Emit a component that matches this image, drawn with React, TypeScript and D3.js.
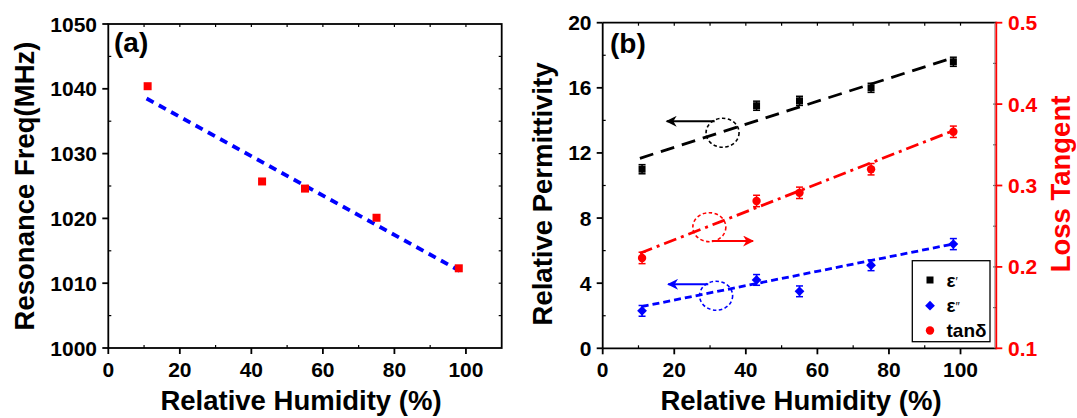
import React from "react";
import * as d3 from "d3";

// ---------- data ----------
const humidity = [11, 43, 55, 75, 98];
const resonanceFreq = [1040.4, 1025.7, 1024.6, 1020.1, 1012.3];
const freqFitX = [10.7, 98.3];
const freqFitY = [1038.5, 1011.9];

const epsReal = [11.0, 14.9, 15.2, 16.0, 17.6];
const epsRealErr = [0.28, 0.28, 0.28, 0.28, 0.28];
const epsImag = [2.3, 4.2, 3.5, 5.1, 6.4];
const epsImagErr = [0.33, 0.33, 0.33, 0.33, 0.34];
const tanDelta = [0.211, 0.281, 0.291, 0.32, 0.366];
const tanDeltaErr = [0.007, 0.007, 0.007, 0.007, 0.007];

const epsRealFitX = [10.4, 98.2];
const epsRealFitY = [11.67, 17.87];
const epsImagFitX = [10.9, 98.0];
const epsImagFitY = [2.56, 6.41];
const tanFitX = [10.4, 98.0];
const tanFitY = [0.2168, 0.3674];

const xTicks = [0, 20, 40, 60, 80, 100];
const freqTicks = [1000, 1010, 1020, 1030, 1040, 1050];
const permTicks = [0, 4, 8, 12, 16, 20];
const lossTicks = [0.1, 0.2, 0.3, 0.4, 0.5];

// annotations (data coords of the left permittivity axis)
const circleX = [33.5, 29.8, 31.7];
const circleY = [13.24, 7.44, 3.23];
const arrowFromX = [31.3, 30.5, 29.5];
const arrowToX = [17.9, 42.0, 18.3];
const arrowY = [13.94, 6.59, 3.93];
const annoColors = ["#000000", "#ff0000", "#0000ff"];

const legendLabels = ["ε", "ε", "tanδ"];
const legendPrimes = ["′", "″", ""];

const FONT = "'Liberation Sans', Arial, Helvetica, sans-serif";
const RED = "#ff0000";
const BLUE = "#0000ff";

function fmt1(v: number) {
  return v.toFixed(1);
}

export default function App() {
  // panel a
  const ax = d3.scaleLinear().domain([0, 110]).range([108.3, 501.7]);
  const ay = d3.scaleLinear().domain([1000, 1050]).range([348, 24]);
  // panel b
  const bx = d3.scaleLinear().domain([0, 110]).range([602.7, 996.3]);
  const by = d3.scaleLinear().domain([0, 20]).range([348.3, 22.7]);
  const byR = d3.scaleLinear().domain([0.1, 0.5]).range([348.3, 22.7]);

  const line = d3.line<[number, number]>();

  const minorX = d3.range(0, 111, 10);
  const fitA = line(freqFitX.map((x, i) => [ax(x), ay(freqFitY[i])]))!;
  const fitEr = line(epsRealFitX.map((x, i) => [bx(x), by(epsRealFitY[i])]))!;
  const fitEi = line(epsImagFitX.map((x, i) => [bx(x), by(epsImagFitY[i])]))!;
  const fitTan = line(tanFitX.map((x, i) => [bx(x), byR(tanFitY[i])]))!;

  const diamond = d3.symbol().type(d3.symbolSquare).size(48)()!;

  const tickText = { fontFamily: FONT, fontWeight: 700, fontSize: 21 } as const;
  const titleText = { fontFamily: FONT, fontWeight: 700, fontSize: 27.5 } as const;

  const errBar = (x: number, y1: number, y2: number, color: string, key: string) => (
    <g key={key} stroke={color} strokeWidth={1.5}>
      <line x1={x} x2={x} y1={y1} y2={y2} />
      <line x1={x - 3.5} x2={x + 3.5} y1={y1} y2={y1} />
      <line x1={x - 3.5} x2={x + 3.5} y1={y2} y2={y2} />
    </g>
  );

  return (
    <svg
      width={1077}
      height={418}
      style={{ position: "absolute", left: 0, top: 0, background: "#fff" }}
    >
      <rect x={0} y={0} width={1077} height={418} fill="#fff" />
      {/* ================= PANEL A ================= */}
      <g>
        {d3.range(1005, 1050, 10).map((v) => (
          <line key={"amy" + v} x1={ax(0)} x2={ax(0) + 3} y1={ay(v)} y2={ay(v)} stroke="#000" strokeWidth={1.2} />
        ))}
        {d3.range(1005, 1050, 5).map((v) => (
          <line key={"ary" + v} x1={ax(110)} x2={ax(110) - 3} y1={ay(v)} y2={ay(v)} stroke="#000" strokeWidth={1.2} />
        ))}
        {d3.range(10, 110, 20).map((v) => (
          <line key={"amx" + v} x1={ax(v)} x2={ax(v)} y1={ay(1000)} y2={ay(1000) - 3} stroke="#000" strokeWidth={1.2} />
        ))}
        {minorX.slice(1, -1).map((v) => (
          <line key={"atx" + v} x1={ax(v)} x2={ax(v)} y1={ay(1050)} y2={ay(1050) + 3} stroke="#000" strokeWidth={1.2} />
        ))}
        {freqTicks.map((v) => (
          <line key={"aMy" + v} x1={ax(0) - 6} x2={ax(0)} y1={ay(v)} y2={ay(v)} stroke="#000" strokeWidth={1.8} />
        ))}
        {xTicks.map((v) => (
          <line key={"aMx" + v} x1={ax(v)} x2={ax(v)} y1={ay(1000)} y2={ay(1000) + 6} stroke="#000" strokeWidth={1.8} />
        ))}
        <rect
          x={ax(0)}
          y={ay(1050)}
          width={ax(110) - ax(0)}
          height={ay(1000) - ay(1050)}
          fill="none"
          stroke="#000"
          strokeWidth={1.8}
        />
        {freqTicks.map((v) => (
          <text key={"aly" + v} x={97} y={ay(v) + 7.5} textAnchor="end" {...tickText}>
            {v}
          </text>
        ))}
        {xTicks.map((v) => (
          <text key={"alx" + v} x={ax(v)} y={376.5} textAnchor="middle" {...tickText}>
            {v}
          </text>
        ))}
        <text x={301} y={410} textAnchor="middle" {...titleText}>
          Relative Humidity (%)
        </text>
        <text transform={`translate(34,186) rotate(-90)`} textAnchor="middle" {...titleText}>
          Resonance Freq(MHz)
        </text>
        <text x={114} y={52} fontFamily={FONT} fontWeight={700} fontSize={28}>
          (a)
        </text>
        <path d={fitA} fill="none" stroke={BLUE} strokeWidth={3.8} strokeDasharray="8 6" />
        {humidity.map((h, i) => (
          <rect key={"ap" + i} x={ax(h) - 4} y={ay(resonanceFreq[i]) - 4} width={8} height={8} fill={RED} />
        ))}
      </g>

      {/* ================= PANEL B ================= */}
      <g>
        {d3.range(2, 20, 4).map((v) => (
          <line key={"bmy" + v} x1={bx(0)} x2={bx(0) + 3} y1={by(v)} y2={by(v)} stroke="#000" strokeWidth={1.2} />
        ))}
        {d3.range(10, 110, 20).map((v) => (
          <line key={"bmx" + v} x1={bx(v)} x2={bx(v)} y1={by(0)} y2={by(0) - 3} stroke="#000" strokeWidth={1.2} />
        ))}
        {minorX.slice(1, -1).map((v) => (
          <line key={"btx" + v} x1={bx(v)} x2={bx(v)} y1={by(20)} y2={by(20) + 3} stroke="#000" strokeWidth={1.2} />
        ))}
        {d3.range(0.15, 0.5, 0.05).map((v) => (
          <line key={"bry" + v} x1={bx(110) - 3} x2={bx(110)} y1={byR(v)} y2={byR(v)} stroke="#333" strokeWidth={1.2} />
        ))}
        {permTicks.map((v) => (
          <line key={"bMy" + v} x1={bx(0) - 6} x2={bx(0)} y1={by(v)} y2={by(v)} stroke="#000" strokeWidth={1.8} />
        ))}
        {xTicks.map((v) => (
          <line key={"bMx" + v} x1={bx(v)} x2={bx(v)} y1={by(0)} y2={by(0) + 6} stroke="#000" strokeWidth={1.8} />
        ))}
        <line x1={bx(0)} x2={bx(0)} y1={by(0)} y2={by(20)} stroke="#000" strokeWidth={1.8} />
        <line x1={bx(0)} x2={bx(110)} y1={by(0)} y2={by(0)} stroke="#000" strokeWidth={1.8} />
        <line x1={bx(0)} x2={bx(110)} y1={by(20)} y2={by(20)} stroke="#000" strokeWidth={1.8} />
        <line x1={bx(110) - 1.5} x2={bx(110) - 1.5} y1={by(0)} y2={by(20)} stroke="#999" strokeWidth={1} />
        <line x1={bx(110)} x2={bx(110)} y1={by(0) + 0.9} y2={by(20) - 0.9} stroke={RED} strokeWidth={1.8} />
        {lossTicks.map((v) => (
          <line key={"bRy" + v} x1={bx(110)} x2={bx(110) + 6} y1={byR(v)} y2={byR(v)} stroke={RED} strokeWidth={1.8} />
        ))}
        {permTicks.map((v) => (
          <text key={"bly" + v} x={591.5} y={by(v) + 7.5} textAnchor="end" {...tickText}>
            {v}
          </text>
        ))}
        {lossTicks.map((v) => (
          <text key={"brl" + v} x={1008} y={byR(v) + 7.5} textAnchor="start" {...tickText} fill={RED}>
            {fmt1(v)}
          </text>
        ))}
        {xTicks.map((v) => (
          <text key={"blx" + v} x={bx(v)} y={376.5} textAnchor="middle" {...tickText}>
            {v}
          </text>
        ))}
        <text x={801} y={410} textAnchor="middle" {...titleText}>
          Relative Humidity (%)
        </text>
        <text transform={`translate(552,194) rotate(-90)`} textAnchor="middle" {...titleText}>
          Relative Permittivity
        </text>
        <text transform={`translate(1070,184) rotate(-90)`} textAnchor="middle" {...titleText} fill={RED}>
          Loss Tangent
        </text>
        <text x={610} y={53} fontFamily={FONT} fontWeight={700} fontSize={28}>
          (b)
        </text>

        <path d={fitEr} fill="none" stroke="#000" strokeWidth={2.8} strokeDasharray="14 8" />
        <path d={fitTan} fill="none" stroke={RED} strokeWidth={2.8} strokeDasharray="13 5 3 5" />
        <path d={fitEi} fill="none" stroke={BLUE} strokeWidth={2.8} strokeDasharray="7 4" />

        <defs>
          {annoColors.map((c, i) => (
            <marker
              key={"mk" + i}
              id={"arrow" + i}
              viewBox="0 0 10 10"
              refX={9}
              refY={5}
              markerWidth={6.5}
              markerHeight={5.5}
              orient="auto"
            >
              <path d="M0,0 L10,5 L0,10 L3,5 Z" fill={c} />
            </marker>
          ))}
        </defs>
        {circleX.map((cx, i) => (
          <ellipse
            key={"ce" + i}
            cx={bx(cx)}
            cy={by(circleY[i])}
            rx={16.5}
            ry={14.5}
            fill="none"
            stroke={annoColors[i]}
            strokeWidth={1.6}
            strokeDasharray="3.5 2.5"
          />
        ))}
        {arrowFromX.map((fx, i) => (
          <line
            key={"ar" + i}
            x1={bx(fx)}
            x2={bx(arrowToX[i])}
            y1={by(arrowY[i])}
            y2={by(arrowY[i])}
            stroke={annoColors[i]}
            strokeWidth={2}
            markerEnd={`url(#arrow${i})`}
          />
        ))}

        {humidity.map((h, i) =>
          errBar(bx(h), by(epsReal[i] - epsRealErr[i]), by(epsReal[i] + epsRealErr[i]), "#000", "eR" + i)
        )}
        {humidity.map((h, i) =>
          errBar(bx(h), by(epsImag[i] - epsImagErr[i]), by(epsImag[i] + epsImagErr[i]), BLUE, "eI" + i)
        )}
        {humidity.map((h, i) =>
          errBar(bx(h), byR(tanDelta[i] - tanDeltaErr[i]), byR(tanDelta[i] + tanDeltaErr[i]), RED, "eT" + i)
        )}
        {humidity.map((h, i) => (
          <rect key={"pr" + i} x={bx(h) - 3.5} y={by(epsReal[i]) - 3.5} width={7} height={7} fill="#000" />
        ))}
        {humidity.map((h, i) => (
          <path key={"pi" + i} d={diamond} transform={`translate(${bx(h)},${by(epsImag[i])}) rotate(45)`} fill={BLUE} />
        ))}
        {humidity.map((h, i) => (
          <circle key={"pt" + i} cx={bx(h)} cy={byR(tanDelta[i])} r={4.2} fill={RED} />
        ))}

        <rect x={912.3} y={260.7} width={77.7} height={81} fill="#fff" stroke="#000" strokeWidth={1.3} />
        <rect x={930 - 3.5} y={280 - 3.5} width={7} height={7} fill="#000" />
        <path d={diamond} transform="translate(930,305.7) rotate(45)" fill={BLUE} />
        <circle cx={930} cy={330.5} r={4.2} fill={RED} />
        {legendLabels.map((l, i) => (
          <text key={"lg" + i} x={946.5} y={287 + i * 25} fontFamily={FONT} fontWeight={700} fontSize={19}>
            {l}
            {legendPrimes[i] ? (
              <tspan fontSize={12} fontWeight={400} dy={-1}>
                {legendPrimes[i]}
              </tspan>
            ) : null}
          </text>
        ))}
      </g>
    </svg>
  );
}
